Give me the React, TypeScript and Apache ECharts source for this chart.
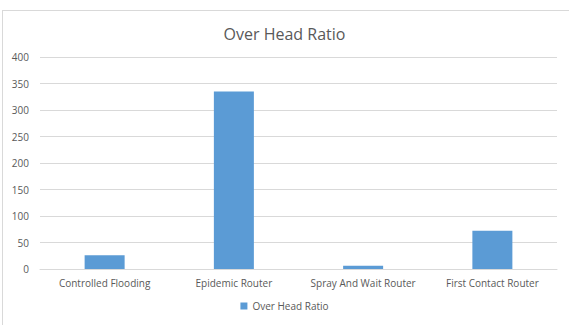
import React, { useEffect, useRef } from "react";
import * as echarts from "echarts";

const categories = ["Controlled Flooding", "Epidemic Router", "Spray And Wait Router", "First Contact Router"];
const overHeadRatio = [26, 335, 6, 72];
const yTicks = { min: 0, max: 400, interval: 50 };

export default function App() {
  const ref = useRef<HTMLDivElement>(null);
  useEffect(() => {
    const chart = echarts.init(ref.current!, null, { renderer: "svg" });
    const font = "'Open Sans', 'Noto Sans', sans-serif";
    chart.setOption({
      animation: false,
      backgroundColor: "#ffffff",
      title: {
        text: "Over Head Ratio",
        left: "center",
        top: 21,
        textStyle: { fontFamily: font, fontSize: 16, fontWeight: "normal", color: "#595959" },
      },
      graphic: [
        { type: "line", shape: { x1: 2, y1: 10.5, x2: 569, y2: 10.5 }, style: { stroke: "#d9d9d9", lineWidth: 1 } },
        { type: "line", shape: { x1: 2.5, y1: 10, x2: 2.5, y2: 325 }, style: { stroke: "#d9d9d9", lineWidth: 1 } },
      ],
      legend: {
        bottom: 9,
        left: "center",
        itemWidth: 7,
        itemHeight: 7,
        itemGap: 4,
        icon: "rect",
        textStyle: { fontFamily: font, fontSize: 10, color: "#595959" },
        data: ["Over Head Ratio"],
      },
      grid: { left: 40, right: 12, top: 57, bottom: 56, containLabel: false },
      xAxis: {
        type: "category",
        data: categories,
        axisLine: { lineStyle: { color: "#d9d9d9" } },
        axisTick: { show: false },
        axisLabel: { fontFamily: font, fontSize: 10, color: "#595959", margin: 9, interval: 0 },
      },
      yAxis: {
        type: "value",
        min: yTicks.min,
        max: yTicks.max,
        interval: yTicks.interval,
        axisLine: { show: false },
        axisTick: { show: false },
        splitLine: { lineStyle: { color: "#d9d9d9" } },
        axisLabel: { fontFamily: font, fontSize: 10, color: "#595959", margin: 11 },
      },
      series: [
        {
          name: "Over Head Ratio",
          type: "bar",
          data: overHeadRatio,
          barWidth: 40,
          itemStyle: { color: "#5b9bd5" },
        },
      ],
    });
    return () => chart.dispose();
  }, []);
  return (
    <div
      ref={ref}
      style={{ position: "absolute", left: 0, top: 0, width: 569, height: 325 }}
    />
  );
}
